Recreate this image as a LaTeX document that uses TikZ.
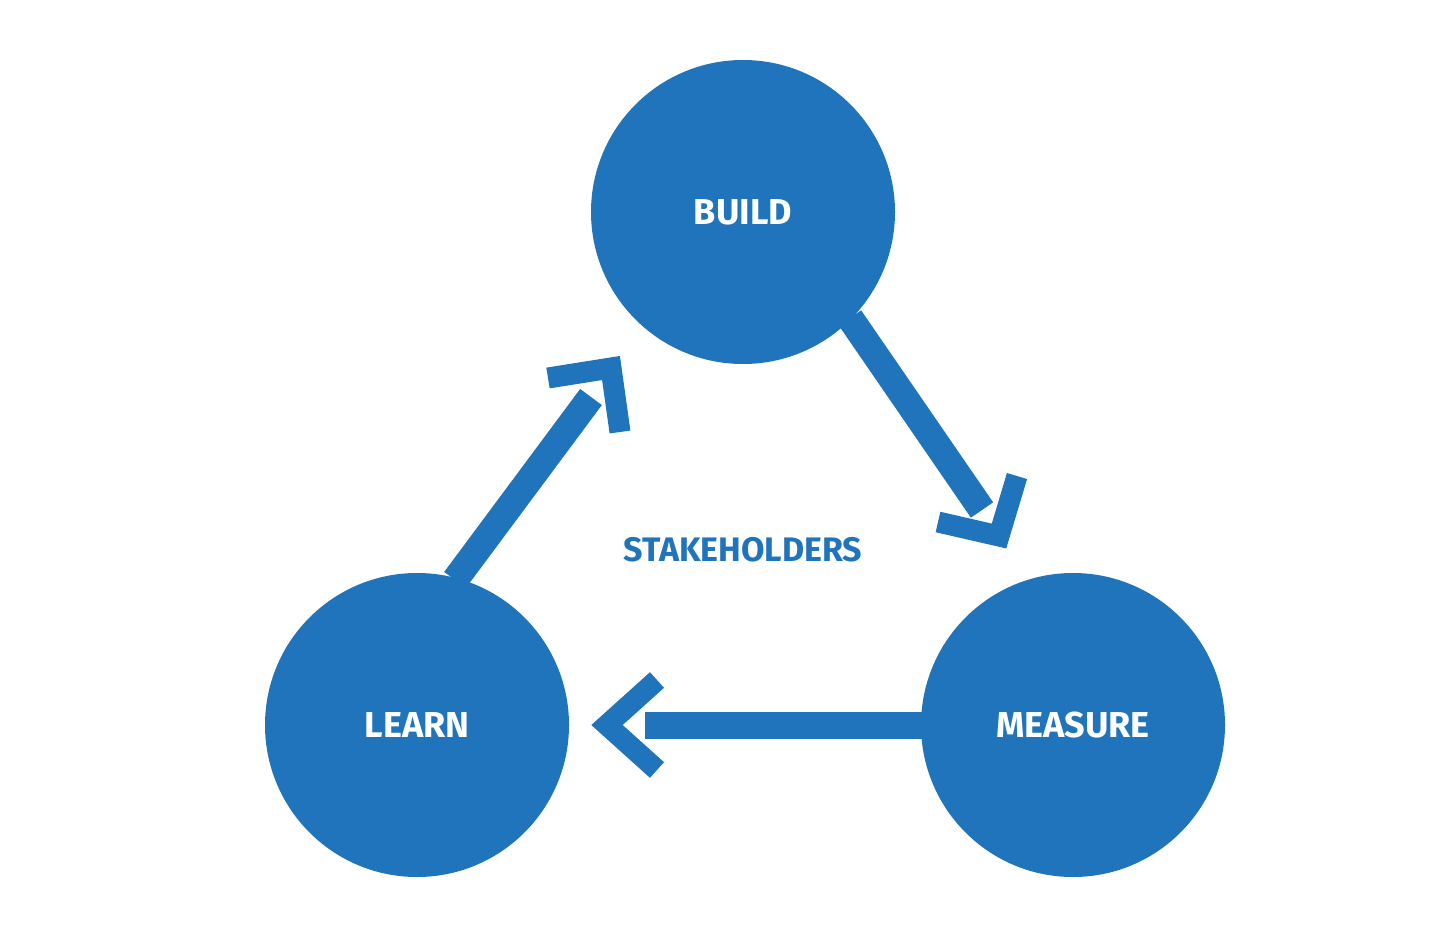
\documentclass[tikz,border=0pt]{standalone}
\usepackage{fontspec}
\setmainfont{Fira Sans}
\definecolor{cblue}{HTML}{1F74BB}
\begin{document}
\begin{tikzpicture}[x=1pt,y=-1pt,
  circ/.style={circle,fill=cblue,minimum size=304pt,inner sep=0pt,text=white,font=\bfseries\fontsize{36}{40}\selectfont},
  shaft/.style={draw=cblue,line width=27pt},
  chev/.style={draw=cblue,line width=21pt,miter limit=10,line join=miter}]
\useasboundingbox (0,0) rectangle (1450,950);
% arrows
\coordinate (b1) at (850,318); \coordinate (b2) at (982,510);
\draw[shaft] (b1) -- (b2);
\draw[chev] (938,522) -- (999,536) -- (1017,476);
\coordinate (l1) at (455,580); \coordinate (l2) at (591,397);
\draw[shaft] (l1) -- (l2);
\draw[chev] (548,378) -- (611,368) -- (620,432);
\coordinate (m1) at (922,725); \coordinate (m2) at (645,725);
\draw[shaft] (m1) -- (m2);
\draw[chev] (657,680) -- (607,725) -- (657,770);
% circles
\node[circ] (build) at (743,212) {BUILD};
\node[circ] (learn) at (417,725) {LEARN};
\node[circ] (measure) at (1073,725) {MEASURE};
\node[text=cblue,font=\bfseries\fontsize{34}{38}\selectfont] (st) at (743,550) {STAKEHOLDERS};
\end{tikzpicture}
\end{document}
